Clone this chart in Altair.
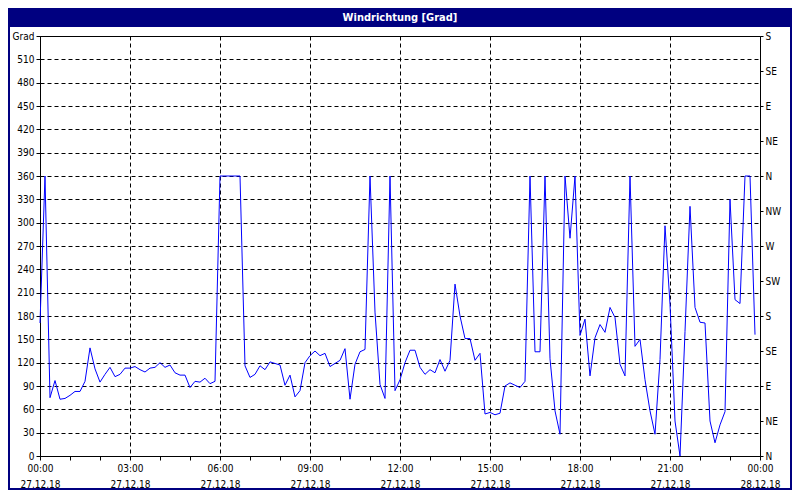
import altair as alt
import pandas as pd

TITLE = "Windrichtung [Grad]"

# sample clock: one reading every 10 minutes on 27.12.18
minutes = list(range(0, 1440, 10))
direction = [
    171, 360, 75, 97, 73, 74, 78, 83, 83, 96, 139, 112,
    95, 105, 114, 102, 105, 113, 113, 115, 111, 108, 113, 114,
    120, 114, 117, 107, 104, 104, 88, 96, 95, 100, 93, 96,
    360, 360, 360, 360, 360, 116, 101, 105, 116, 111, 121, 119,
    117, 91, 104, 76, 84, 120, 129, 135, 129, 132, 115, 119,
    123, 138, 73, 118, 134, 137, 360, 185, 92, 74, 360, 84,
    98, 120, 136, 136, 114, 105, 111, 107, 124, 109, 123, 221,
    180, 151, 151, 123, 132, 54, 56, 53, 55, 90, 94, 91,
    88, 96, 360, 134, 134, 360, 125, 58, 28, 360, 280, 360,
    155, 176, 103, 152, 169, 159, 191, 178, 118, 103, 360, 141,
    150, 98, 58, 28, 124, 296, 195, 45, 0, 160, 321, 191,
    172, 171, 45, 17, 40, 57, 330, 201, 196, 360, 360, 156,
]

grad_ticks = [0, 30, 60, 90, 120, 150, 180, 210, 240, 270, 300, 330,
              360, 390, 420, 450, 480, 510, 540]
grad_unit = "Grad"
compass_ticks = [0, 45, 90, 135, 180, 225, 270, 315, 360, 405, 450, 495, 540]
compass_labels = ["N", "NE", "E", "SE", "S", "SW", "W", "NW", "N", "NE", "E", "SE", "S"]
hour_ticks = [0, 60, 120, 180, 240, 300, 360, 420, 480, 540, 600, 660, 720,
              780, 840, 900, 960, 1020, 1080, 1140, 1200, 1260, 1320, 1380, 1440]
major_ticks = [0, 180, 360, 540, 720, 900, 1080, 1260, 1440]
time_labels = ["00:00", "03:00", "06:00", "09:00", "12:00", "15:00", "18:00", "21:00", "00:00"]
date_labels = ["27.12.18", "27.12.18", "27.12.18", "27.12.18", "27.12.18",
               "27.12.18", "27.12.18", "27.12.18", "28.12.18"]

df = pd.DataFrame({"minute": minutes, "deg": direction})
title_df = pd.DataFrame({"t": [TITLE]})

FONT = "Tahoma, 'DejaVu Sans Condensed', 'DejaVu Sans', sans-serif"
NAVY = "#000080"


def js_list(items):
    return "[" + ",".join(repr(i) if isinstance(i, str) else str(i) for i in items) + "]"


MAJ = js_list(major_ticks)
x_label_expr = (
    f"indexof({MAJ}, datum.value) >= 0 ? "
    f"[{js_list(time_labels)}[indexof({MAJ}, datum.value)], "
    f"{js_list(date_labels)}[indexof({MAJ}, datum.value)]] : ''"
)

x_axis = alt.Axis(
    values=hour_ticks, labelExpr=x_label_expr, title=None,
    grid=True, gridDash=[4, 3], gridColor="black", gridWidth=1,
    gridOpacity={"condition": {"test": f"indexof({MAJ}, datum.value) > 0 && datum.value < 1440",
                               "value": 1}, "value": 0},
    tickSize=4, tickColor="black", domainColor="black",
    labelFont=FONT, labelFontSize=10, labelColor="black", labelPadding=3,
    labelLineHeight=16, labelFlush=False, labelOverlap=False, labelBaseline="top",
)
x_enc = alt.X("minute:Q", axis=x_axis, scale=alt.Scale(domain=[0, 1440], nice=False, zero=False))

left_axis = alt.Axis(
    values=grad_ticks, orient="left", title=None,
    labelExpr=f"datum.value == 540 ? '{grad_unit}' : datum.label",
    grid=True, gridDash=[4, 3], gridColor="black", gridWidth=1,
    tickSize=4, tickColor="black", domainColor="black",
    labelFont=FONT, labelFontSize=10, labelColor="black", labelPadding=2,
    labelOverlap=False, labelFlush=False,
)
right_axis = alt.Axis(
    values=compass_ticks, orient="right", title=None,
    labelExpr=f"{js_list(compass_labels)}[round(datum.value / 45)]",
    grid=False, tickSize=3, tickColor="black", domainColor="black",
    labelFont=FONT, labelFontSize=10, labelColor="black", labelPadding=2,
    labelOverlap=False, labelFlush=False,
)
y_scale = alt.Scale(domain=[0, 540], nice=False, zero=False)

line = alt.Chart(df).mark_line(color="#0000ff", strokeWidth=1).encode(
    x=x_enc,
    y=alt.Y("deg:Q", axis=left_axis, scale=y_scale),
)
right = alt.Chart(df).mark_line(strokeOpacity=0).encode(
    x=x_enc,
    y=alt.Y("deg:Q", axis=right_axis, scale=y_scale),
)

bar = alt.Chart(title_df).mark_rect(color=NAVY).encode(
    x=alt.value(-32), x2=alt.value(752), y=alt.value(-28), y2=alt.value(-9)
)
bar_text = alt.Chart(title_df).mark_text(
    color="white", font=FONT, fontSize=11, fontWeight="bold", align="center", baseline="middle"
).encode(x=alt.value(360), y=alt.value(-18.5), text="t:N")
border = alt.Chart(title_df).mark_rect(fillOpacity=0, stroke=NAVY, strokeWidth=2).encode(
    x=alt.value(-31), x2=alt.value(751), y=alt.value(-27), y2=alt.value(453)
)

chart = alt.layer(line, right, bar, bar_text, border).resolve_scale(
    y="independent"
).resolve_axis(y="independent").properties(
    width=720, height=420,
    padding={"left": 32, "right": 32, "top": 28, "bottom": 34},
    autosize=alt.AutoSizeParams(type="none"),
    background="white",
).configure_view(stroke="black", strokeWidth=1)

chart.save("out.html", embed_options={"renderer": "svg", "actions": False})
